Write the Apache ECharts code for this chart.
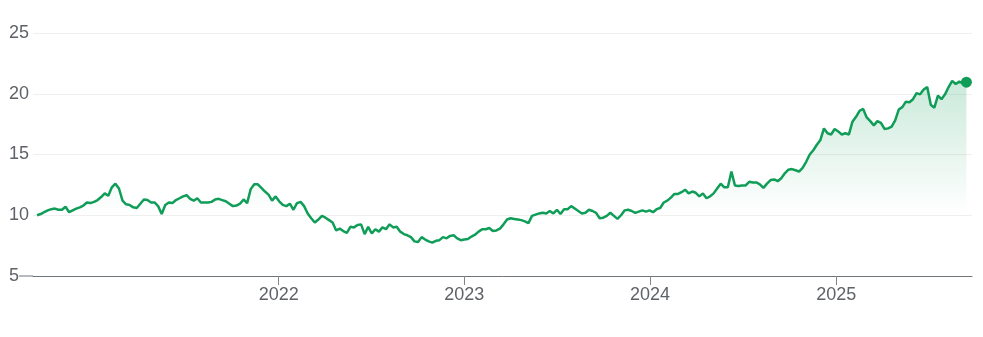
<!DOCTYPE html>
<html>
<head>
<meta charset="utf-8">
<script src="https://cdn.jsdelivr.net/npm/echarts@6/dist/echarts.min.js"></script>
<style>
html,body{margin:0;padding:0;background:#fff;}
#chart{width:983px;height:337px;}
</style>
</head>
<body>
<div id="chart"></div>
<script>
// Weekly closing values, starting 2020-09-13
const startDate = Date.UTC(2020, 8, 13);
const weekMs = 7 * 24 * 3600 * 1000;
const values = [
10.0,10.1,10.25,10.4,10.5,10.55,10.45,10.45,10.7,10.25,
10.4,10.55,10.65,10.8,11.05,11.0,11.1,11.25,11.5,11.8,
11.6,12.3,12.6,12.2,11.2,10.9,10.85,10.65,10.6,10.95,
11.3,11.25,11.05,11.05,10.75,10.1,10.85,11.05,11.0,11.25,
11.4,11.55,11.65,11.35,11.2,11.4,11.05,11.05,11.05,11.1,
11.3,11.35,11.25,11.15,10.95,10.75,10.8,10.95,11.3,11.0,
12.15,12.55,12.55,12.25,11.95,11.7,11.2,11.55,11.15,10.85,
10.75,10.95,10.45,11.0,11.1,10.75,10.15,9.75,9.4,9.65,
9.95,9.8,9.6,9.4,8.75,8.9,8.7,8.55,9.05,9.0,
9.2,9.25,8.45,9.05,8.5,8.85,8.65,9.0,8.85,9.25,
9.0,9.05,8.65,8.45,8.35,8.2,7.85,7.8,8.2,8.0,
7.85,7.75,7.9,7.95,8.2,8.1,8.3,8.35,8.1,7.95,
8.0,8.05,8.25,8.4,8.65,8.85,8.85,8.95,8.7,8.75,
8.9,9.25,9.65,9.75,9.7,9.65,9.6,9.5,9.35,9.95,
10.05,10.15,10.2,10.15,10.35,10.15,10.45,10.1,10.5,10.5,
10.75,10.55,10.35,10.15,10.2,10.45,10.35,10.2,9.75,9.8,
9.95,10.2,9.95,9.7,10.0,10.4,10.45,10.35,10.2,10.3,
10.4,10.3,10.4,10.25,10.5,10.6,11.05,11.2,11.45,11.75,
11.75,11.9,12.1,11.8,11.95,11.85,11.55,11.8,11.4,11.55,
11.8,12.2,12.6,12.3,12.3,13.6,12.45,12.4,12.45,12.45,
12.75,12.7,12.7,12.55,12.25,12.6,12.9,12.95,12.8,13.05,
13.45,13.75,13.8,13.7,13.6,13.9,14.4,15.0,15.35,15.8,
16.2,17.15,16.75,16.65,17.1,16.9,16.65,16.75,16.65,17.7,
18.1,18.6,18.75,18.05,17.75,17.4,17.75,17.6,17.1,17.15,
17.3,17.8,18.7,18.9,19.35,19.3,19.55,20.05,19.95,20.35,
20.55,19.1,18.85,19.85,19.55,19.95,20.55,21.05,20.8,21.0,
20.85,20.95
];
const yTicks = [5, 10, 15, 20, 25];
const tickYears = [2022, 2023, 2024, 2025];

const seriesData = values.map((v, i) => [startDate + i * weekMs, v]);
const last = seriesData[seriesData.length - 1];
const yearValues = tickYears.map(y => Date.UTC(y, 0, 1));

const green = '#0f9d58';
const chart = echarts.init(document.getElementById('chart'));
chart.setOption({
  animation: false,
  grid: { left: 33, right: 11, top: 33, bottom: 61 },
  xAxis: {
    type: 'value',
    min: Date.UTC(2020, 8, 5),
    max: Date.UTC(2025, 8, 25),
    axisLine: { show: true, lineStyle: { color: '#70757a', width: 1 } },
    axisTick: { show: true, customValues: yearValues, length: 9, lineStyle: { color: '#80868b' } },
    axisLabel: {
      customValues: yearValues,
      formatter: v => String(new Date(v).getUTCFullYear()),
      color: '#5f6368', fontSize: 18, fontFamily: 'Liberation Sans, Arial, sans-serif', margin: 10
    },
    splitLine: { show: false }
  },
  yAxis: {
    type: 'value',
    min: yTicks[0], max: yTicks[yTicks.length - 1], interval: 5,
    axisLine: { show: false },
    axisTick: { show: false },
    axisLabel: {
      align: 'left', margin: 24,
      color: '#5f6368', fontSize: 18, fontFamily: 'Liberation Sans, Arial, sans-serif'
    },
    splitLine: { lineStyle: { color: '#efefef', width: 1 } }
  },
  series: [
    {
      type: 'line',
      data: seriesData,
      showSymbol: false,
      lineStyle: { color: green, width: 2.5 },
      areaStyle: {
        opacity: 1,
        color: new echarts.graphic.LinearGradient(0, 0, 0, 1, [
          { offset: 0, color: 'rgba(15,157,88,0.22)' },
          { offset: 0.68, color: 'rgba(15,157,88,0)' }
        ])
      },
      z: 3
    },
    {
      type: 'scatter',
      data: [last],
      symbol: 'circle',
      symbolSize: 11,
      itemStyle: { color: green, opacity: 1 },
      z: 4
    }
  ]
});
const yAxisPx = chart.convertToPixel({ yAxisIndex: 0 }, yTicks[0]);
chart.setOption({
  graphic: [{
    type: 'line', silent: true,
    shape: { x1: 19, y1: yAxisPx, x2: 33, y2: yAxisPx },
    style: { stroke: '#70757a', lineWidth: 1 }
  }]
});
</script>
</body>
</html>
